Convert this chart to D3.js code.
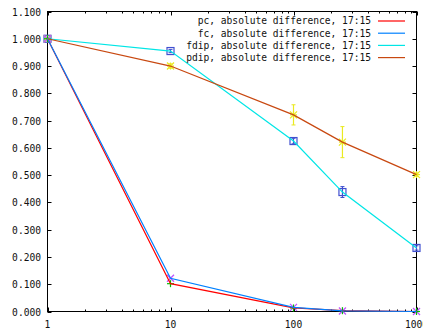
<!DOCTYPE html>
<html>
<head>
<meta charset="utf-8">
<script src="https://cdn.jsdelivr.net/npm/d3@7"></script>
<style>
html,body{margin:0;padding:0;background:#fff;}
svg{display:block;}
text{font-family:"DejaVu Sans Mono","Liberation Mono",monospace;font-size:9.6px;fill:#111;}
</style>
</head>
<body>
<svg id="chart" width="423" height="329"></svg>
<script>
// ---- data ----
const xValues = [1, 10, 100, 250, 1000];
const pcValues = [1.000, 0.102, 0.013, 0.003, 0.000];
const fcValues = [1.000, 0.122, 0.015, 0.002, 0.000];
const fdipValues = [1.000, 0.955, 0.625, 0.438, 0.233];
const fdipErrors = [0.000, 0.006, 0.010, 0.020, 0.008];
const pdipValues = [1.000, 0.900, 0.721, 0.621, 0.502];
const pdipErrors = [0.000, 0.008, 0.037, 0.057, 0.006];
const seriesNames = ["pc, absolute difference, 17:15", "fc, absolute difference, 17:15",
                     "fdip, absolute difference, 17:15", "pdip, absolute difference, 17:15"];
const yTickValues = [0, 0.1, 0.2, 0.3, 0.4, 0.5, 0.6, 0.7, 0.8, 0.9, 1.0, 1.1];
const xTickValues = [1, 10, 100, 1000];

const svg = d3.select("#chart");
const L = 47.5, R = 416.5, T = 11.5, B = 311.5;
const x = d3.scaleLog().domain([1, 1000]).range([L, R]);
const y = d3.scaleLinear().domain([0, 1.1]).range([B, T]);

// border
svg.append("rect").attr("x", L).attr("y", T).attr("width", R - L).attr("height", B - T)
  .attr("fill", "none").attr("stroke", "#000").attr("stroke-width", 1);

// y ticks (both sides, inward)
const majorLen = 4, minorLen = 2;
yTickValues.forEach(v => {
  const yy = Math.round(y(v)) + 0.5;
  svg.append("line").attr("x1", L).attr("x2", L + majorLen).attr("y1", yy).attr("y2", yy).attr("stroke", "#000");
  svg.append("line").attr("x1", R).attr("x2", R - majorLen).attr("y1", yy).attr("y2", yy).attr("stroke", "#000");
  svg.append("text").attr("x", 41).attr("y", yy).attr("dy", "0.35em").attr("text-anchor", "end")
    .text(d3.format(".3f")(v));
});

// x ticks major + minor
const minorTicks = [];
for (let d = 1; d < 1000; d *= 10) for (let k = 2; k <= 9; k++) minorTicks.push(d * k);
minorTicks.forEach(v => {
  const xx = Math.round(x(v)) + 0.5;
  svg.append("line").attr("x1", xx).attr("x2", xx).attr("y1", B).attr("y2", B - minorLen).attr("stroke", "#000");
  svg.append("line").attr("x1", xx).attr("x2", xx).attr("y1", T).attr("y2", T + minorLen).attr("stroke", "#000");
});
xTickValues.forEach(v => {
  const xx = Math.round(x(v)) + 0.5;
  svg.append("line").attr("x1", xx).attr("x2", xx).attr("y1", B).attr("y2", B - majorLen).attr("stroke", "#000");
  svg.append("line").attr("x1", xx).attr("x2", xx).attr("y1", T).attr("y2", T + majorLen).attr("stroke", "#000");
  svg.append("text").attr("x", x(v)).attr("y", 328).attr("text-anchor", "middle").text(String(v));
});

const plot = svg.append("g");
const line = d3.line().x(d => x(d[0])).y(d => y(d[1]));
function zip(vals){ return xValues.map((xv, i) => [xv, vals[i]]); }

const lineColors = ["#ff0000", "#0080ff", "#00e6e6", "#c84810"];
const allVals = [pcValues, fcValues, fdipValues, pdipValues];

// error bars
function errorBars(vals, errs, color) {
  xValues.forEach((xv, i) => {
    if (!errs[i]) return;
    const xx = x(xv), y1 = y(vals[i] - errs[i]), y2 = y(vals[i] + errs[i]);
    plot.append("line").attr("x1", xx).attr("x2", xx).attr("y1", y1).attr("y2", y2).attr("stroke", color).attr("stroke-width", 1.2);
    [y1, y2].forEach(yy => plot.append("line").attr("x1", xx - 2).attr("x2", xx + 2).attr("y1", yy).attr("y2", yy).attr("stroke", color).attr("stroke-width", 1));
  });
}
errorBars(fdipValues, fdipErrors, "#4050d0");
errorBars(pdipValues, pdipErrors, "#eaea20");

// markers
function markers(vals, type, color) {
  xValues.forEach((xv, i) => {
    const cx = x(xv), cy = y(vals[i]), s = 3.5;
    const g = plot.append("g").attr("stroke", color).attr("fill", "none").attr("stroke-width", 1.2);
    if (type === "plus" || type === "star") {
      g.append("line").attr("x1", cx - s).attr("x2", cx + s).attr("y1", cy).attr("y2", cy);
      g.append("line").attr("x1", cx).attr("x2", cx).attr("y1", cy - s).attr("y2", cy + s);
    }
    if (type === "cross" || type === "star") {
      g.append("line").attr("x1", cx - s).attr("x2", cx + s).attr("y1", cy - s).attr("y2", cy + s);
      g.append("line").attr("x1", cx - s).attr("x2", cx + s).attr("y1", cy + s).attr("y2", cy - s);
    }
    if (type === "square") {
      g.append("rect").attr("x", cx - 3.5).attr("y", cy - 3.5).attr("width", 7).attr("height", 7);
    }
  });
}
markers(fdipValues, "square", "#4050d0");
markers(pdipValues, "star", "#eaea20");
markers(fcValues, "cross", "#c050ff");
markers(pcValues, "plus", "#00c000");

// lines
allVals.forEach((vals, i) => {
  plot.append("path").attr("d", line(zip(vals))).attr("fill", "none")
    .attr("stroke", lineColors[i]).attr("stroke-width", 1.2);
});

// legend
seriesNames.forEach((name, i) => {
  const yy = 21 + i * 12.2;
  svg.append("text").attr("x", 371).attr("y", yy).attr("dy", "0.35em").attr("text-anchor", "end").text(name);
  svg.append("line").attr("x1", 378).attr("x2", 405).attr("y1", yy).attr("y2", yy)
    .attr("stroke", lineColors[i]).attr("stroke-width", 1.2);
});
</script>
</body>
</html>
